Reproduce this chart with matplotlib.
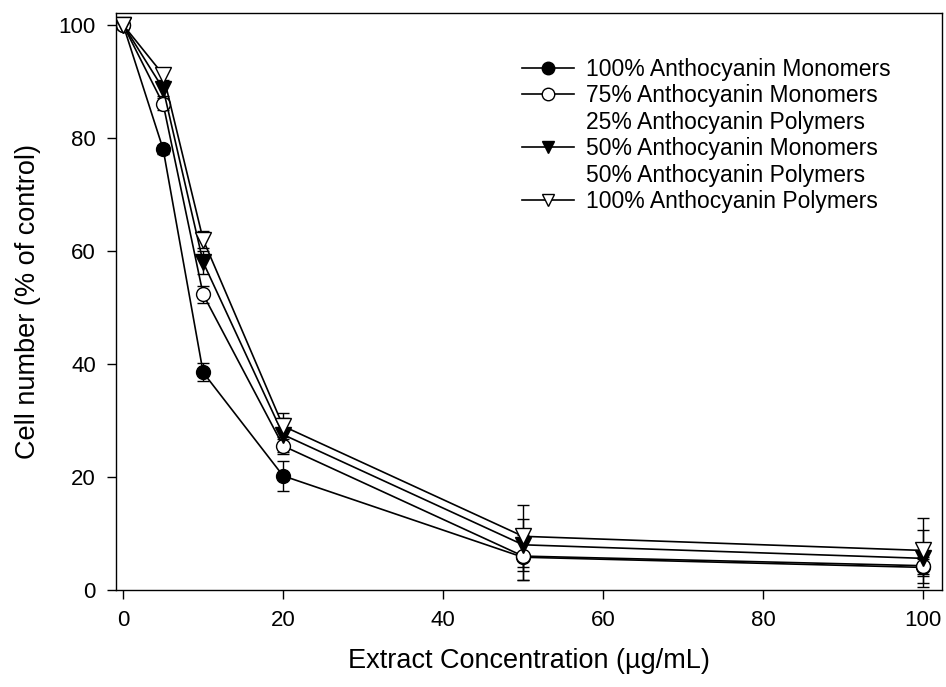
import matplotlib
matplotlib.use("Agg")
import matplotlib.pyplot as plt
from matplotlib.lines import Line2D

plt.rcParams['font.family'] = ['Liberation Sans', 'DejaVu Sans']

conc = [0, 5, 10, 20, 50, 100]

labels = ["100% Anthocyanin Monomers",
          "75% Anthocyanin Monomers\n25% Anthocyanin Polymers",
          "50% Anthocyanin Monomers\n50% Anthocyanin Polymers",
          "100% Anthocyanin Polymers"]

mono100 = [100, 78.0, 38.5, 20.2, 5.8, 4.0]
mono100_err = [0.8, 0.8, 1.6, 2.6, 4.0, 1.5]

mono75 = [100, 86.0, 52.3, 25.5, 6.0, 4.3]
mono75_err = [0.8, 1.0, 1.5, 1.5, 4.2, 1.5]

mono50 = [100, 88.7, 58.0, 27.5, 8.0, 5.6]
mono50_err = [0.8, 1.2, 2.0, 3.0, 4.6, 5.0]

poly100 = [100, 91.2, 62.0, 29.0, 9.5, 7.0]
poly100_err = [0.8, 1.0, 1.5, 2.3, 5.5, 5.7]

series = [mono100, mono75, mono50, poly100]
errors = [mono100_err, mono75_err, mono50_err, poly100_err]
markers = ['o', 'o', 'v', 'v']
msizes = [10, 10, 11, 11]
faces = ['black', 'white', 'black', 'white']

fig = plt.figure(figsize=(9.46, 6.87), dpi=100)
ax = fig.add_axes([0.1226, 0.1412, 0.8732, 0.8398])

for ys, es, m, ms, fc in zip(series, errors, markers, msizes, faces):
    ax.errorbar(conc, ys, yerr=es, color='black', lw=1.2, marker=m,
                markersize=ms, markerfacecolor=fc, markeredgecolor='black',
                markeredgewidth=1.0, ecolor='black', elinewidth=1.0,
                capsize=4.5, capthick=1.0)

ax.set_xlim(-0.9, 102.4)
ax.set_ylim(0, 102.1)
ax.set_xticks([0, 20, 40, 60, 80, 100])
ax.set_yticks([0, 20, 40, 60, 80, 100])
ax.tick_params(direction='out', length=6.5, width=1, labelsize=16, pad=8)
for s in ax.spines.values():
    s.set_linewidth(1.0)

ax.set_xlabel("Extract Concentration (\u00b5g/mL)", fontsize=19.5, labelpad=12)
ax.set_ylabel("Cell number (% of control)", fontsize=19.5, labelpad=13)

blank = Line2D([], [], linestyle='none', marker='none')
handles = []
leg_labels = []
for lab, m, fc in zip(labels, markers, faces):
    parts = lab.split("\n")
    handles.append(Line2D([], [], color='black', lw=1.2, marker=m, markersize=9,
                          markerfacecolor=fc, markeredgecolor='black', markeredgewidth=1.0))
    leg_labels.append(parts[0])
    for p in parts[1:]:
        handles.append(blank)
        leg_labels.append(p)

ax.legend(handles, leg_labels, loc='upper left', bbox_to_anchor=(0.492, 0.922),
          frameon=False, fontsize=16.5, handlelength=2.27, handletextpad=0.5,
          labelspacing=0.15, borderaxespad=0, borderpad=0)

fig.savefig("out.png", dpi=100)
